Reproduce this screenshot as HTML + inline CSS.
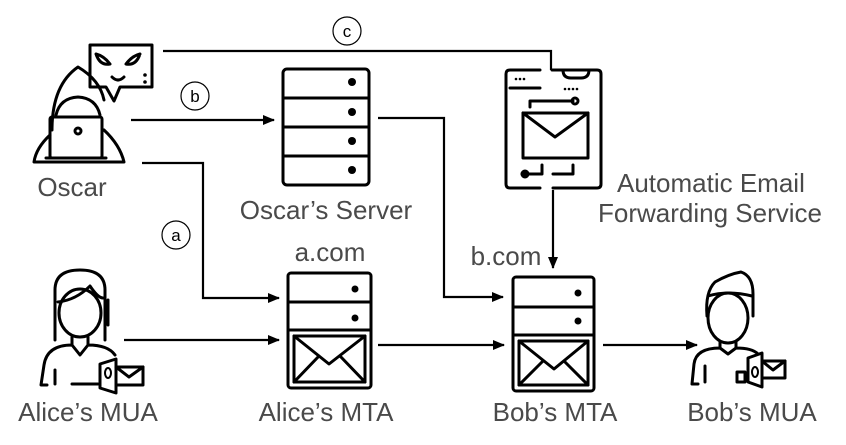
<!DOCTYPE html>
<html><head><style>
body{margin:0;background:#fff;}
svg text{font-family:"Liberation Sans",sans-serif;fill:#4a4a4a;}
</style></head><body>
<svg width="846" height="440" viewBox="0 0 846 440" xmlns="http://www.w3.org/2000/svg">
<defs>
<marker id="ar" markerWidth="12" markerHeight="10" refX="11" refY="5" orient="auto" markerUnits="userSpaceOnUse"><path d="M0,0 L12,5 L0,10 z" fill="#000"/></marker>
</defs>
<g fill="none" stroke="#000" stroke-width="2.2">
<path d="M163,51 H551 V70"/>
<path d="M131,120 H274" marker-end="url(#ar)"/>
<path d="M378,118 H444 V297 H503" marker-end="url(#ar)"/>
<path d="M142,163 H203 V298 H279" marker-end="url(#ar)"/>
<path d="M553,190 V268" marker-end="url(#ar)"/>
<path d="M124,340 H279" marker-end="url(#ar)"/>
<path d="M378,345 H504" marker-end="url(#ar)"/>
<path d="M603,345 H697" marker-end="url(#ar)"/>
</g>
<g fill="#fff" stroke="#000" stroke-width="1.2">
<circle cx="347" cy="31" r="14"/><circle cx="195" cy="96" r="14"/><circle cx="176" cy="235" r="14"/>
</g>
<text x="347" y="37" font-size="17" text-anchor="middle" style="fill:#000">c</text>
<text x="195" y="102" font-size="17" text-anchor="middle" style="fill:#000">b</text>
<text x="176" y="241" font-size="17" text-anchor="middle" style="fill:#000">a</text>

<g fill="none" stroke="#000" stroke-width="3" stroke-linejoin="round" stroke-linecap="round">
<!-- Oscar -->
<path d="M90,45 h62 v42 h-32 l-6,14 l-8,-14 h-16 z"/>
<path d="M96,54 q8,2 14,10 q-10,2 -14,-10 M140,54 q-8,2 -14,10 q10,2 14,-10 M112,77 q6,6 12,0"/>
<path d="M52,130 Q52,85 78,67 Q100,80 104,100"/>
<path d="M50,135 Q36,148 34,162 L124,162 Q120,145 104,130"/>
<path d="M56,115 Q60,98 78,97 Q96,98 100,115"/>
<rect x="50" y="117" width="52" height="41" rx="2"/>
<path d="M46,158 h60"/>
<circle cx="78" cy="131" r="3"/>
<!-- Oscar's server -->
<rect x="283" y="69" width="86" height="116" rx="4"/>
<path d="M283,98 h86 M283,127 h86 M283,156 h86"/>
<!-- phone -->
<path d="M540,70 h-30 q-4,0 -4,4 v110 q0,4 4,4 h30 M552,70 h45 q4,0 4,4 v110 q0,4 -4,4 h-44"/>
<path d="M510,88 h30 M563,70 q0,8 8,8 h10 q8,0 8,-8"/>
<rect x="523" y="113" width="65" height="45"/>
<path d="M523,113 l32,24 l33,-24"/>
<path d="M530,107 v-6 h43 M542,165 v9 h-20 M573,165 v9 h-20"/>
<circle cx="575" cy="101" r="3"/><circle cx="525" cy="174" r="3"/>
<!-- Alice's MTA -->
<rect x="288" y="273" width="83" height="115" rx="3"/>
<path d="M288,302 h83 M288,330 h83"/>
<rect x="294" y="336" width="71" height="46"/>
<path d="M294,336 l35,28 l36,-28 M294,382 l25,-26 M365,382 l-25,-26"/>
<!-- Bob's MTA -->
<rect x="513" y="277" width="81" height="114" rx="3"/>
<path d="M513,307 h81 M513,335 h81"/>
<rect x="519" y="341" width="69" height="44"/>
<path d="M519,341 l35,28 l34,-28 M519,385 l24,-24 M588,385 l-24,-24"/>
<!-- Alice MUA -->
<path d="M55,340 v-50 q0,-20 25,-20 q25,0 25,20 v50 M108,300 v25"/>
<ellipse cx="80" cy="313" rx="21" ry="24"/>
<path d="M58,302 q18,-2 32,-16 q8,12 13,12"/>
<path d="M72,337 v8 l8,10 l8,-10 v-8 M72,345 q-25,0 -28,20 l-3,20 h6 M88,345 q20,0 27,10 M55,370 v14 M72,384 h26"/>
<path d="M100,364 l16,-5 v34 l-16,-5 z"/><rect x="116" y="367" width="27" height="18"/><path d="M116,367 l13,10 l14,-10"/>
<!-- Bob MUA -->
<ellipse cx="728" cy="318" rx="20" ry="25"/>
<path d="M707,316 q-2,-24 8,-34 q14,-8 26,-10 q12,4 12,22 v22 M708,296 q20,-6 44,0"/>
<path d="M720,342 v6 l8,6 l8,-6 v-6 M720,348 q-24,0 -26,16 l-2,20 h6 M736,348 q16,0 22,6 M705,366 v16"/>
<path d="M737,372 h8 v10 h-8 z M748,358 l14,-5 v34 l-14,-5 z"/><rect x="762" y="361" width="23" height="17"/><path d="M762,361 l11,9 l12,-9"/>
</g>
<g fill="#000">
<circle cx="352" cy="82" r="4"/><circle cx="352" cy="112" r="4"/><circle cx="352" cy="141" r="4"/><circle cx="352" cy="170" r="4"/>
<circle cx="355" cy="289" r="3.5"/><circle cx="355" cy="318" r="3.5"/>
<circle cx="578" cy="293" r="3.5"/><circle cx="578" cy="321" r="3.5"/>
<circle cx="145" cy="75" r="1.8"/><circle cx="145" cy="82" r="1.8"/>
<circle cx="516" cy="79" r="1.3"/><circle cx="520" cy="79" r="1.3"/><circle cx="524" cy="79" r="1.3"/>
<circle cx="565" cy="89" r="1.3"/><circle cx="569" cy="89" r="1.3"/><circle cx="573" cy="89" r="1.3"/><circle cx="577" cy="89" r="1.3"/>
<ellipse cx="108" cy="373" rx="3" ry="5" fill="none" stroke="#000" stroke-width="2"/>
<ellipse cx="755" cy="372" rx="3" ry="5" fill="none" stroke="#000" stroke-width="2"/>
</g>
<g font-size="26">
<text x="72" y="196" text-anchor="middle">Oscar</text>
<text x="326" y="219" text-anchor="middle">Oscar’s Server</text>
<text x="617" y="192">Automatic Email</text>
<text x="598" y="222">Forwarding Service</text>
<text x="330" y="261" text-anchor="middle">a.com</text>
<text x="506" y="265" text-anchor="middle">b.com</text>
<text x="88" y="421" text-anchor="middle">Alice’s MUA</text>
<text x="326" y="421" text-anchor="middle">Alice’s MTA</text>
<text x="555" y="421" text-anchor="middle">Bob’s MTA</text>
<text x="752" y="421" text-anchor="middle">Bob’s MUA</text>
</g>
</svg>
</body></html>
